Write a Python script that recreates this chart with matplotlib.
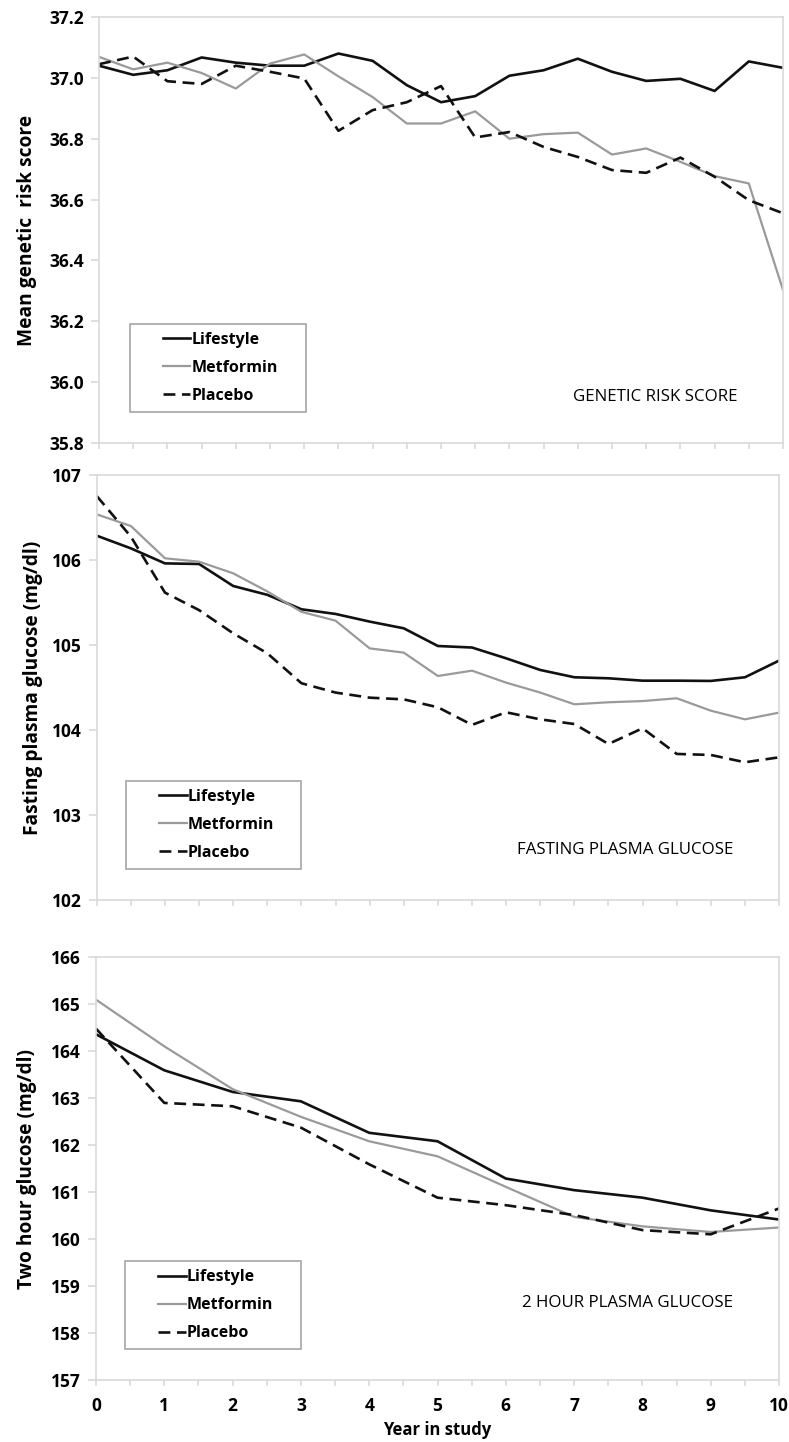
import matplotlib
matplotlib.use('Agg')
import matplotlib.pyplot as plt
from matplotlib.lines import Line2D
from matplotlib.legend_handler import HandlerLine2D
from matplotlib.ticker import MultipleLocator, FormatStrFormatter

plt.rcParams['font.family'] = ['Open Sans', 'DejaVu Sans']
plt.rcParams['font.weight'] = 'bold'
plt.rcParams['axes.labelweight'] = 'bold'

# years in study (half-year visits for top two panels, yearly for the bottom one)
years_half = [0, 0.5, 1, 1.5, 2, 2.5, 3, 3.5, 4, 4.5, 5,
              5.5, 6, 6.5, 7, 7.5, 8, 8.5, 9, 9.5, 10]
years_full = [0, 1, 2, 3, 4, 5, 6, 7, 8, 9, 10]

# genetic risk score
grs_lifestyle = [37.04, 37.01, 37.025, 37.067, 37.05, 37.04, 37.04, 37.08, 37.056, 36.976, 36.92,
                 36.94, 37.007, 37.025, 37.063, 37.02, 36.99, 36.997, 36.957, 37.054, 37.033]
grs_metformin = [37.069, 37.028, 37.05, 37.016, 36.965, 37.047, 37.077, 37.005, 36.937, 36.85, 36.85,
                 36.89, 36.80, 36.815, 36.82, 36.748, 36.768, 36.724, 36.677, 36.653, 36.303]
grs_placebo = [37.045, 37.07, 36.989, 36.98, 37.04, 37.02, 36.998, 36.826, 36.894, 36.92, 36.973,
               36.804, 36.822, 36.773, 36.74, 36.697, 36.688, 36.738, 36.675, 36.598, 36.555]

# fasting plasma glucose
fpg_lifestyle = [106.286, 106.137, 105.96, 105.953, 105.694, 105.59, 105.42, 105.365, 105.275, 105.196, 104.988,
                 104.97, 104.843, 104.706, 104.62, 104.608, 104.58, 104.58, 104.577, 104.62, 104.816]
fpg_metformin = [106.537, 106.4, 106.02, 105.98, 105.843, 105.63, 105.39, 105.286, 104.96, 104.91, 104.635,
                 104.698, 104.557, 104.44, 104.302, 104.326, 104.34, 104.373, 104.227, 104.125, 104.204]
fpg_placebo = [106.753, 106.275, 105.616, 105.41, 105.137, 104.902, 104.55, 104.44, 104.38, 104.36, 104.267,
               104.06, 104.208, 104.125, 104.07, 103.835, 104.02, 103.718, 103.706, 103.62, 103.678]

# 2 hour plasma glucose
ogtt_lifestyle = [164.356, 163.59, 163.13, 162.93, 162.26, 162.08, 161.287, 161.04, 160.88, 160.61, 160.415]
ogtt_metformin = [165.093, 164.1, 163.19, 162.6, 162.08, 161.76, 161.11, 160.47, 160.27, 160.15, 160.245]
ogtt_placebo = [164.476, 162.896, 162.825, 162.37, 161.59, 160.88, 160.72, 160.51, 160.19, 160.10, 160.65]

labels = ['Lifestyle', 'Metformin', 'Placebo']

fig = plt.figure(figsize=(7.89, 14.42), dpi=100)
ax1 = fig.add_axes([0.1255, 0.6928, 0.8669, 0.2954])
ax2 = fig.add_axes([0.1226, 0.3759, 0.8648, 0.2947])
ax3 = fig.add_axes([0.1217, 0.0430, 0.8656, 0.2933])

spine_col = '#d9d9d9'


def draw_panel(ax, x, life, met, plac, ylim, ystep, fmt, ylabel, label_x, note, note_y, legend_x):
    ax.plot(x, life, color='#111111', lw=1.9, label=labels[0])
    ax.plot(x, met, color='#9a9a9a', lw=1.6, label=labels[1])
    ax.plot(x, plac, color='#111111', lw=1.9, dashes=(4.5, 2.5), label=labels[2])

    ax.set_xlim(0, 10)
    ax.set_ylim(*ylim)
    ax.yaxis.set_major_locator(MultipleLocator(ystep))
    ax.yaxis.set_major_formatter(FormatStrFormatter(fmt))
    ax.xaxis.set_major_locator(MultipleLocator(1))
    ax.xaxis.set_minor_locator(MultipleLocator(0.5))
    for s in ax.spines.values():
        s.set_color(spine_col)
        s.set_linewidth(1.2)
    ax.tick_params(axis='y', length=6, width=1.2, color=spine_col, pad=5, labelsize=12.5)
    ax.tick_params(axis='x', which='both', length=4.5, width=1.2, color=spine_col)

    ax.set_ylabel(ylabel, fontsize=13.8)
    ax.yaxis.set_label_coords(label_x, 0.5)

    ax.text(9.33, note_y, note, ha='right', va='center', fontsize=12.2, fontweight='normal')

    leg = ax.legend(loc='lower left', bbox_to_anchor=(legend_x, 0.073, 0.257, 0.2),
                    mode='expand', borderaxespad=0, fontsize=11.5, handlelength=3.3,
                    handletextpad=0.05, labelspacing=0.75, borderpad=0.5,
                    fancybox=False, framealpha=1,
                    handler_map={Line2D: HandlerLine2D(marker_pad=0, xpad=1.55)})
    leg.get_frame().set_edgecolor('#a6a6a6')
    leg.get_frame().set_linewidth(1.2)


draw_panel(ax1, years_half, grs_lifestyle, grs_metformin, grs_placebo,
           (35.8, 37.2), 0.2, '%.1f', 'Mean genetic  risk score', -0.0906,
           'GENETIC RISK SCORE', 35.95, 0.045)
draw_panel(ax2, years_half, fpg_lifestyle, fpg_metformin, fpg_placebo,
           (102, 107), 1, '%d', 'Fasting plasma glucose (mg/dl)', -0.0787,
           'FASTING PLASMA GLUCOSE', 102.59, 0.043)
draw_panel(ax3, years_full, ogtt_lifestyle, ogtt_metformin, ogtt_placebo,
           (157, 166), 1, '%d', 'Two hour glucose (mg/dl)', -0.0864,
           '2 HOUR PLASMA GLUCOSE', 158.64, 0.0425)

ax1.tick_params(axis='x', which='both', labelbottom=False)
ax2.tick_params(axis='x', which='both', labelbottom=False)
ax3.tick_params(axis='x', which='major', labelsize=12.5, pad=8)
ax3.set_xlabel('Year in study', fontsize=12, labelpad=4)

fig.savefig('out.png', dpi=100)
